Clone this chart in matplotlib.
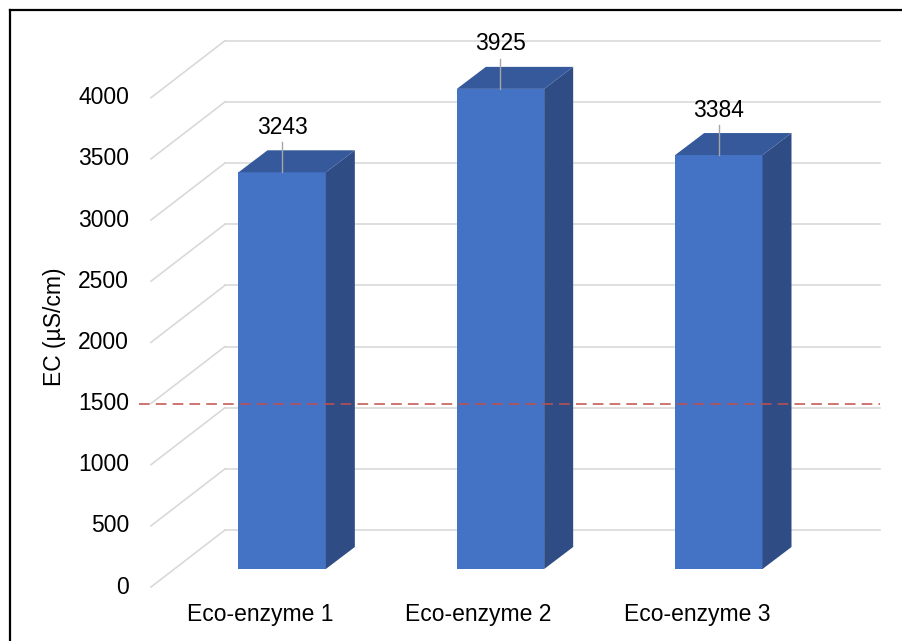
import numpy as np
import matplotlib.pyplot as plt
from matplotlib.patches import Polygon
from matplotlib.lines import Line2D

# =====================================================
# DADOS
# =====================================================

categories = ["Eco-enzyme 1", "Eco-enzyme 2", "Eco-enzyme 3"]
ec_values = [3243, 3925, 3384]
y_ticks = [0, 500, 1000, 1500, 2000, 2500, 3000, 3500, 4000]
LIMIT = 1500

FRONT_COLOR = "#4472C4"
SIDE_COLOR = "#2F4C85"
TOP_COLOR = "#35599B"
GRID_COLOR = "#D9D9D9"

plt.rcParams["font.family"] = ["Liberation Sans", "DejaVu Sans"]
FS = 16.5

# =====================================================
# FIGURA (parede do fundo = eixo)
# =====================================================

W, H, DPI = 902, 641, 100
fig = plt.figure(figsize=(W / DPI, H / DPI), dpi=DPI)

ax = fig.add_axes([225 / W, (H - 530) / H, 655 / W, 489.3 / H])
ax.set_xlim(-0.5, len(categories) - 0.5)
ax.set_ylim(0, 4000)
ax.axis("off")


def px(dx, dy):
    # deslocamento em pixels -> unidades de dados
    inv = ax.transData.inverted()
    x0, y0 = inv.transform((0, 0))
    x1, y1 = inv.transform((dx, dy))
    return x1 - x0, y1 - y0


ox, oy = px(-74, -57)      # plano da frente (piso)
fx, fy = px(-52, -39)      # face frontal das barras
dx, dy = px(29, 22)        # profundidade das barras
bw = 0.40

x_left = -0.5
x_right = len(categories) - 0.5

# grade: linhas do fundo + diagonais do piso lateral
for t in y_ticks:
    ax.plot([x_left, x_right], [t, t], color=GRID_COLOR, lw=1.2,
            zorder=1, clip_on=False)
    ax.plot([x_left + ox, x_left], [t + oy, t], color=GRID_COLOR,
            lw=1.2, zorder=1, clip_on=False)
    lx, _ = px(-22, 0)
    ax.text(x_left + ox + lx, t + oy, str(t), ha="right", va="center",
            fontsize=FS, color="#000000", clip_on=False)

# =====================================================
# BARRAS 3D
# =====================================================

for i, v in enumerate(ec_values):
    xl = i - bw / 2 + fx
    xr = i + bw / 2 + fx
    yb = fy
    yt = v + fy

    front = Polygon([(xl, yb), (xr, yb), (xr, yt), (xl, yt)],
                    closed=True, facecolor=FRONT_COLOR, edgecolor="none",
                    zorder=3, clip_on=False)
    side = Polygon([(xr, yb), (xr, yt), (xr + dx, yt + dy), (xr + dx, yb + dy)],
                   closed=True, facecolor=SIDE_COLOR, edgecolor="none",
                   zorder=3, clip_on=False)
    top = Polygon([(xl, yt), (xr, yt), (xr + dx, yt + dy), (xl + dx, yt + dy)],
                  closed=True, facecolor=TOP_COLOR, edgecolor="none",
                  zorder=3, clip_on=False)
    for p in (front, side, top):
        ax.add_patch(p)

    # rótulo + linha guia
    _, lead = px(0, 30)
    _, lab = px(0, 45)
    ax.plot([i + fx, i + fx], [yt, yt + lead], color="#A6A6A6", lw=1,
            zorder=4, clip_on=False)
    ax.text(i + fx, yt + lab, str(v), ha="center", va="center",
            fontsize=FS, color="#000000", zorder=5, clip_on=False)

# categorias no plano da frente
_, cy = px(0, -28)
for i, c in enumerate(categories):
    ax.text(i + ox, oy + cy, c, ha="center", va="center", fontsize=FS,
            color="#000000", clip_on=False)

# linha limite (tracejada)
ex, _ = px(-12, 0)
ax.plot([x_left + ox + ex, x_right], [LIMIT + oy, LIMIT + oy],
        color="#C0504D", lw=1.1, ls=(0, (7, 4)), zorder=6, clip_on=False)

# título do eixo y
fig.text(55 / W, 1 - 327 / H, "EC (µS/cm)", rotation=90, ha="center",
         va="center", fontsize=FS)

# moldura (esquerda e topo)
fig.add_artist(Line2D([10 / W, 10 / W], [0, 1 - 10 / H], transform=fig.transFigure,
                      color="black", lw=1.6))
fig.add_artist(Line2D([10 / W, 1], [1 - 10 / H, 1 - 10 / H], transform=fig.transFigure,
                      color="black", lw=1.6))

fig.savefig("out.png", dpi=DPI)
plt.close(fig)
